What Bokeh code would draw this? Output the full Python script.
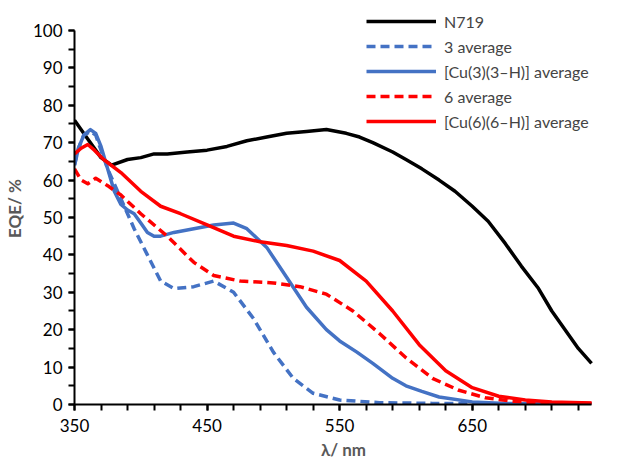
from bokeh.plotting import figure
from bokeh.models import Legend, LegendItem, FixedTicker, Range1d
from bokeh.embed import file_html
from bokeh.resources import INLINE

# wavelength (nm) / EQE (%)
n719_x = [350, 360, 370, 378, 390, 400, 410, 420, 435, 450, 465, 480, 495, 510, 525, 540, 555, 565, 575, 590, 600, 612, 625, 637, 650, 662, 675, 687, 700, 710, 720, 730, 740]
n719_y = [76, 71, 66, 64, 65.5, 66, 67, 67, 67.5, 68, 69, 70.5, 71.5, 72.5, 73, 73.5, 72.5, 71.5, 70, 67.5, 65.5, 63, 60, 57, 53, 49, 43, 37, 31, 25, 20, 15, 11]

cu3_x = [350, 353, 357, 362, 366, 370, 375, 380, 385, 390, 395, 400, 405, 410, 415, 425, 440, 455, 470, 480, 495, 510, 525, 540, 550, 563, 575, 590, 600, 612, 625, 650, 675, 700, 740]
cu3_y = [64, 68.5, 72, 73.5, 72.5, 69, 63, 57, 53.5, 52, 51, 48.5, 46, 45, 45, 46, 47, 48, 48.5, 47, 42, 34, 26, 20, 17, 14, 11, 7, 5, 3.5, 2, 0.7, 0.3, 0.2, 0.2]

l3_x = [350, 353, 357, 362, 366, 370, 375, 385, 395, 405, 415, 425, 440, 455, 470, 485, 500, 515, 530, 550, 580, 620, 660, 700, 740]
l3_y = [64, 68.5, 72, 73, 72, 68, 63, 55, 47, 40, 33, 31, 31.5, 33, 30, 23, 14, 7, 3, 1.2, 0.5, 0.3, 0.2, 0.1, 0.1]

cu6_x = [350, 355, 360, 365, 372, 385, 400, 415, 430, 450, 470, 490, 510, 530, 550, 570, 590, 610, 630, 650, 670, 690, 710, 740]
cu6_y = [67, 68.5, 69.5, 68, 65.5, 62, 57, 53, 51, 48, 45, 43.5, 42.5, 41, 38.5, 33, 25, 16, 9, 4.5, 2.2, 1.2, 0.7, 0.4]

l6_x = [350, 355, 360, 366, 375, 385, 400, 420, 440, 455, 475, 500, 520, 540, 560, 580, 600, 620, 640, 660, 680, 700, 740]
l6_y = [63, 60, 59, 60.5, 58.5, 56, 51, 45, 38, 34.5, 33, 32.5, 31.5, 29.5, 25, 19, 12.5, 7, 3.8, 1.8, 0.9, 0.5, 0.3]

p = figure(frame_width=538, frame_height=392, output_backend="svg", toolbar_location=None,
           x_range=Range1d(350, 755.8), y_range=Range1d(0, 104.8),
           min_border_left=68, min_border_right=0, min_border_top=12, min_border_bottom=0)
p.outline_line_color = None
p.xgrid.visible = False
p.ygrid.visible = False

r1 = p.line(n719_x, n719_y, line_color="black", line_width=3.5, line_join="round")
r2 = p.line(l3_x, l3_y, line_color="#4472C4", line_width=3.5, line_dash="9 5", line_join="round")
r3 = p.line(cu3_x, cu3_y, line_color="#4472C4", line_width=3.5, line_join="round")
r4 = p.line(l6_x, l6_y, line_color="#FF0000", line_width=3.5, line_dash="9 5", line_join="round")
r5 = p.line(cu6_x, cu6_y, line_color="#FF0000", line_width=3.5, line_join="round")

legend = Legend(items=[
    LegendItem(label="N719", renderers=[r1]),
    LegendItem(label="3 average", renderers=[r2]),
    LegendItem(label="[Cu(3)(3\u2013H)] average", renderers=[r3]),
    LegendItem(label="6 average", renderers=[r4]),
    LegendItem(label="[Cu(6)(6\u2013H)] average", renderers=[r5]),
], location=(292, 272), border_line_color=None, background_fill_alpha=0,
    label_text_font="Lato", label_text_font_size="16px", label_height=22,
    glyph_width=70, glyph_height=20, spacing=3, padding=0, label_standoff=8)
p.add_layout(legend, "center")

for ax in (p.xaxis[0], p.yaxis[0]):
    ax.axis_line_width = 2
    ax.axis_line_color = "black"
    ax.major_tick_line_width = 2
    ax.minor_tick_line_width = 2
    ax.major_tick_line_color = "black"
    ax.minor_tick_line_color = "black"
    ax.major_tick_out = 6
    ax.major_tick_in = 0
    ax.minor_tick_out = 6
    ax.minor_tick_in = 0
    ax.major_label_text_font = "Lato"
    ax.major_label_text_font_size = "17px"
    ax.major_label_text_color = "black"
    ax.axis_label_text_font = "Lato"
    ax.axis_label_text_font_size = "17px"
    ax.axis_label_text_font_style = "bold"
    ax.axis_label_text_color = "#595959"

p.xaxis.bounds = (350, 740)
p.yaxis.bounds = (0, 100)
p.xaxis.ticker = FixedTicker(ticks=[350, 450, 550, 650], minor_ticks=list(range(350, 741, 20)))
p.yaxis.ticker = FixedTicker(ticks=list(range(0, 101, 10)), minor_ticks=list(range(0, 101, 5)))
p.xaxis.axis_label = "\u03bb/ nm"
p.yaxis.axis_label = "EQE/ %"
p.xaxis.major_label_standoff = 8
p.xaxis.axis_label_standoff = 4
p.yaxis.major_label_standoff = 6

open("out.html", "w").write(file_html(p, INLINE))
